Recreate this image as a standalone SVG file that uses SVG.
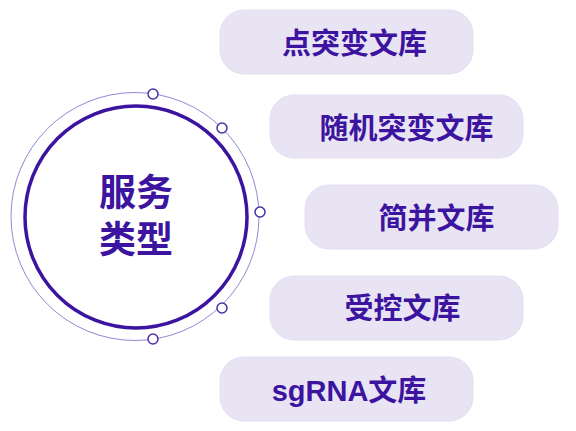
<svg xmlns="http://www.w3.org/2000/svg" width="576" height="431" viewBox="0 0 576 431">
<style>
.pill{fill:#e8e4f4;stroke:#e3def2;stroke-width:1}
.lbl{font-family:"Noto Sans CJK SC","Liberation Sans",sans-serif;font-weight:700;font-size:29px;fill:#3c14a0;text-anchor:middle}
.lat{font-family:"Liberation Sans","Noto Sans CJK SC",sans-serif}
.dot{fill:#ffffff;stroke:#4a2fa6;stroke-width:1.5}
</style>
<rect width="576" height="431" fill="#ffffff"/>
<g id="center">
<circle cx="135" cy="216.5" r="124" fill="none" stroke="#9288d2" stroke-width="1"/>
<circle cx="136" cy="217" r="111" fill="none" stroke="#3c14a0" stroke-width="3.5"/>
<text class="lbl" x="136" y="206" style="font-size:37px"><tspan x="136" y="206">服务</tspan><tspan x="136" y="253">类型</tspan></text>
</g>
<g id="connectors">
<circle class="dot" cx="153" cy="94" r="5"/>
<circle class="dot" cx="222" cy="128" r="5"/>
<circle class="dot" cx="260" cy="212" r="5"/>
<circle class="dot" cx="222" cy="308" r="5"/>
<circle class="dot" cx="153" cy="339" r="5"/>
</g>
<g id="n1">
<rect class="pill" x="220" y="10" width="253" height="64" rx="24"/>
<text class="lbl" x="354.5" y="54">点突变文库</text>
</g>
<g id="n2">
<rect class="pill" x="270" y="95" width="253" height="63" rx="24"/>
<text class="lbl" x="406.5" y="139">随机突变文库</text>
</g>
<g id="n3">
<rect class="pill" x="305" y="185" width="253" height="64" rx="24"/>
<text class="lbl" x="436.5" y="229">简并文库</text>
</g>
<g id="n4">
<rect class="pill" x="270" y="276" width="253" height="64" rx="24"/>
<text class="lbl" x="402.5" y="319">受控文库</text>
</g>
<g id="n5">
<rect class="pill" x="220" y="357" width="253" height="64" rx="24"/>
<text class="lbl lat" x="349" y="401">sgRNA文库</text>
</g>
</svg>
